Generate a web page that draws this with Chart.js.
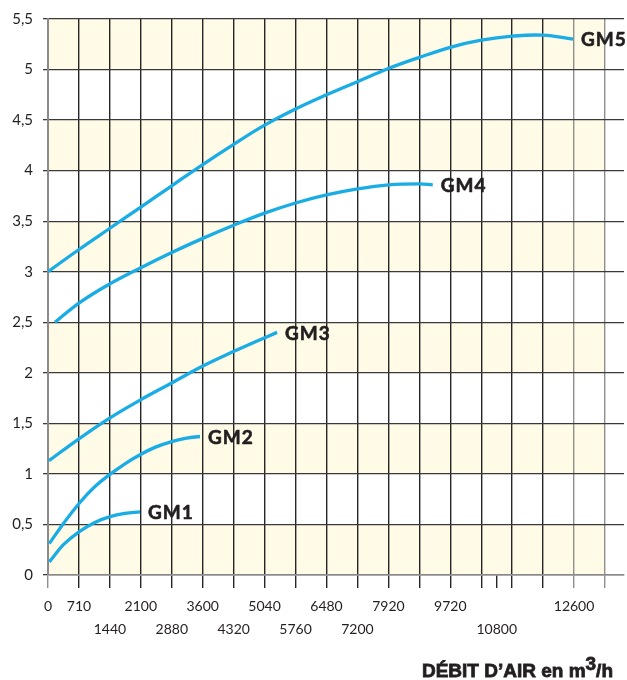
<!DOCTYPE html>
<html>
<head>
<meta charset="utf-8">
<script src="https://cdn.jsdelivr.net/npm/chart.js@4/dist/chart.umd.min.js"></script>
<style>
  body { margin: 0; background: #fff; }
</style>
</head>
<body>
<canvas id="chart" width="627" height="680"></canvas>
<script>
// grid positions on the x axis and the labels printed under them
const xTickValues = [0, 720, 1440, 2160, 2880, 3600, 4320, 5040, 5760, 6480, 7200, 7920, 8640, 9360, 10080, 10440, 10800, 11520, 12240, 12960];
const xTickLabels = ['0', '710', '1440', '2100', '2880', '3600', '4320', '5040', '5760', '6480', '7200', '7920', '', '9720', '', '10800', '', '', '12600', ''];
const xTickLowRow = ['1440', '2880', '4320', '5760', '7200', '10800'];

const seriesNames = ['GM1', 'GM2', 'GM3', 'GM4', 'GM5'];

// curves (x = air flow, y = pressure)
const gm1X = [30, 360, 728, 1090, 1426, 1790, 2141];
const gm1Y = [0.13, 0.30, 0.43, 0.52, 0.575, 0.61, 0.625];
const gm2X = [30, 360, 728, 1080, 1426, 1790, 2141, 2500, 2878, 3227, 3537];
const gm2Y = [0.31, 0.51, 0.71, 0.87, 0.99, 1.10, 1.19, 1.265, 1.32, 1.355, 1.37];
const gm3X = [20, 728, 1426, 2141, 2878, 3614, 4312, 4894, 5330];
const gm3Y = [1.13, 1.35, 1.55, 1.73, 1.90, 2.07, 2.21, 2.32, 2.40];
const gm4X = [163, 720, 1440, 2160, 2880, 3600, 4320, 5040, 5760, 6480, 7200, 7920, 8640, 8952];
const gm4Y = [2.50, 2.69, 2.88, 3.04, 3.19, 3.33, 3.46, 3.58, 3.68, 3.76, 3.82, 3.86, 3.87, 3.86];
const gm5X = [0, 720, 1440, 2160, 2880, 3600, 4320, 5040, 5760, 6480, 7200, 7920, 8640, 9360, 10080, 10800, 11520, 12216];
const gm5Y = [3.00, 3.22, 3.43, 3.64, 3.85, 4.06, 4.26, 4.45, 4.61, 4.75, 4.88, 5.01, 5.12, 5.22, 5.29, 5.33, 5.34, 5.30];

const curves = [[gm1X, gm1Y], [gm2X, gm2Y], [gm3X, gm3Y], [gm4X, gm4Y], [gm5X, gm5Y]];

const lineColor = '#1aace5';
const bandColor = '#fffbe7';

// alternating beige bands behind the grid
const bandsPlugin = {
  id: 'bands',
  beforeDraw(chart) {
    const ctx = chart.ctx, x = chart.scales.x, y = chart.scales.y;
    const left = x.getPixelForValue(0), right = x.getPixelForValue(12960);
    ctx.save();
    ctx.fillStyle = bandColor;
    for (let v = 0; v < 5.5; v += 1) {
      const top = y.getPixelForValue(v + 0.5), bottom = y.getPixelForValue(v);
      ctx.fillRect(left, top, right - left, bottom - top);
    }
    ctx.restore();
  }
};

// GM names at the end of each curve + axis title
const namesPlugin = {
  id: 'names',
  afterDatasetsDraw(chart) {
    const ctx = chart.ctx;
    ctx.save();
    ctx.fillStyle = '#231f20';
    ctx.strokeStyle = '#231f20';
    ctx.lineWidth = 0.6;
    ctx.font = 'bold 19px Lato';
    ctx.letterSpacing = '1px';
    ctx.textBaseline = 'middle';
    ctx.textAlign = 'left';
    chart.data.datasets.forEach((ds, i) => {
      const pts = chart.getDatasetMeta(i).data;
      const last = pts[pts.length - 1];
      ctx.fillText(ds.label, last.x + 8, last.y + 1);
      ctx.strokeText(ds.label, last.x + 8, last.y + 1);
    });

    // DÉBIT D'AIR en m3/h with a raised 3
    ctx.letterSpacing = '0px';
    ctx.font = 'bold 19px "Liberation Sans"';
    ctx.lineWidth = 0.8;
    ctx.textBaseline = 'alphabetic';
    const a = 'DÉBIT D\u2019AIR en m', b = '3', c = '/h';
    const wa = ctx.measureText(a).width, wb = ctx.measureText(b).width, wc = ctx.measureText(c).width;
    const right = 613, base = 677;
    const x0 = right - wa - wb - wc;
    [[a, x0, base], [b, x0 + wa, base - 7], [c, x0 + wa + wb, base]].forEach(t => {
      ctx.fillText(t[0], t[1], t[2]);
      ctx.strokeText(t[0], t[1], t[2]);
    });
    ctx.restore();
  }
};

new Chart(document.getElementById('chart'), {
  type: 'line',
  data: {
    datasets: curves.map((c, i) => ({
      label: seriesNames[i],
      data: c[0].map((v, j) => ({ x: v, y: c[1][j] })),
      borderColor: lineColor,
      borderWidth: 3.3,
      pointRadius: 0,
      fill: false,
      tension: 0.4
    }))
  },
  options: {
    responsive: false,
    animation: false,
    layout: { padding: { top: 17, right: 3, left: 0, bottom: 0 } },
    plugins: { legend: { display: false }, tooltip: { enabled: false } },
    scales: {
      x: {
        type: 'linear',
        min: 0,
        max: 13402,
        afterBuildTicks(scale) {
          scale.ticks = xTickValues.map(v => ({ value: v }));
        },
        afterFit(scale) { scale.height = 105; },
        ticks: {
          autoSkip: false,
          maxRotation: 0,
          padding: 7,
          color: '#231f20',
          font: { family: 'Lato', size: 14, lineHeight: 1.65 },
          callback(value, index) {
            const lab = xTickLabels[index];
            return xTickLowRow.includes(lab) ? ['', lab] : lab;
          }
        },
        grid: {
          drawTicks: true,
          tickLength: 13,
          lineWidth: 1.4,
          color(ctx) {
            const v = ctx.tick && ctx.tick.value;
            if (v === 10440) return 'rgba(0,0,0,0)';
            if (v === 0) return '#8a8a8a';
            if (v >= 12240) return '#8f8f8f';
            return '#262626';
          },
          tickColor(ctx) {
            const v = ctx.tick && ctx.tick.value;
            if (v === 0 || v >= 12240) return '#8f8f8f';
            return '#262626';
          }
        },
        border: { display: true, color: '#8a8a8a', width: 1.6 }
      },
      y: {
        min: 0,
        max: 5.5,
        afterFit(scale) { scale.width = 48; },
        ticks: {
          stepSize: 0.5,
          padding: 10,
          color: '#231f20',
          font: { family: 'Lato', size: 15 },
          callback(value) { return String(value).replace('.', ','); }
        },
        grid: {
          drawTicks: true,
          tickLength: 5,
          lineWidth: 1.3,
          color: '#3a3a3a',
          tickColor: '#3a3a3a'
        },
        border: { display: true, color: '#8a8a8a', width: 2 }
      }
    }
  },
  plugins: [bandsPlugin, namesPlugin]
});
</script>
</body>
</html>
